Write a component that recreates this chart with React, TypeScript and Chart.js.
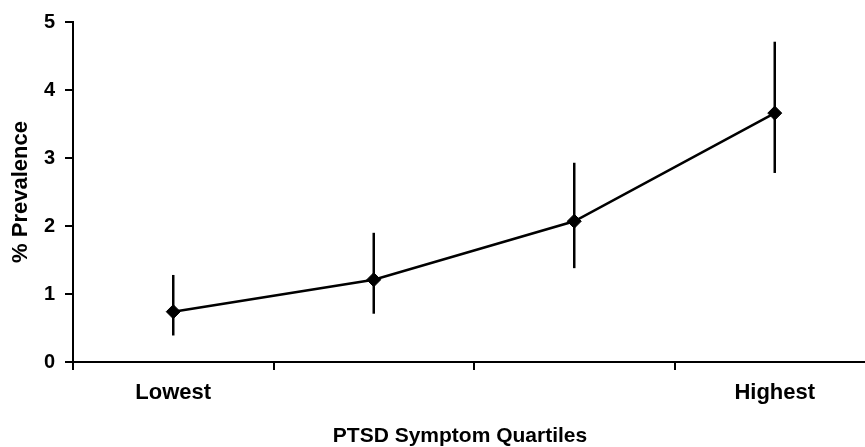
import React, { useEffect, useRef } from "react";
import { Chart, registerables } from "chart.js";

Chart.register(...registerables);

const quartiles = ["Lowest", "", "", "Highest"];
const prevalence = [0.74, 1.21, 2.07, 3.66];
const upperCI = [1.28, 1.9, 2.93, 4.71];
const lowerCI = [0.39, 0.71, 1.38, 2.78];
const yTicks = [0, 1, 2, 3, 4, 5];
const xTitle = "PTSD Symptom Quartiles";
const yTitle = "% Prevalence";

const FONT = "'Liberation Sans', Arial, Helvetica, sans-serif";

const errorBars = {
  id: "errorBars",
  beforeDatasetsDraw(chart: any) {
    const { ctx, scales } = chart;
    const xs = scales.x;
    const ys = scales.y;
    ctx.save();
    ctx.strokeStyle = "#000";
    ctx.lineWidth = 2.5;
    for (let i = 0; i < prevalence.length; i++) {
      const x = xs.getPixelForValue(i);
      ctx.beginPath();
      ctx.moveTo(x, ys.getPixelForValue(upperCI[i]));
      ctx.lineTo(x, ys.getPixelForValue(lowerCI[i]));
      ctx.stroke();
    }
    ctx.restore();
  },
};

const bottomTitle = {
  id: "bottomTitle",
  afterDraw(chart: any) {
    const { ctx, chartArea } = chart;
    ctx.save();
    ctx.fillStyle = "#000";
    ctx.font = `bold 21px ${FONT}`;
    ctx.textAlign = "center";
    ctx.textBaseline = "middle";
    ctx.fillText(xTitle, chartArea.left + 387, chartArea.bottom + 74);
    ctx.restore();
  },
};

export default function App() {
  const ref = useRef<HTMLCanvasElement | null>(null);

  useEffect(() => {
    if (!ref.current) return;
    const chart = new Chart(ref.current, {
      type: "line",
      data: {
        labels: quartiles,
        datasets: [
          {
            data: prevalence,
            borderColor: "#000",
            borderWidth: 2.5,
            backgroundColor: "#000",
            pointStyle: "rectRot",
            pointRadius: 7,
            pointBorderWidth: 1,
            pointBackgroundColor: "#000",
            pointBorderColor: "#000",
            tension: 0,
            fill: false,
          },
        ],
      },
      options: {
        responsive: false,
        animation: false,
        events: [],
        layout: { padding: { top: 19, left: 0, right: 0, bottom: 0 } },
        plugins: {
          legend: { display: false },
          tooltip: { enabled: false },
        },
        scales: {
          x: {
            type: "category",
            offset: true,
            border: { display: true, color: "#000", width: 2 },
            grid: {
              offset: true,
              drawOnChartArea: false,
              drawTicks: true,
              tickLength: 8,
              color: "#000",
              lineWidth: 2,
            },
            ticks: {
              color: "#000",
              padding: 10,
              maxRotation: 0,
              autoSkip: false,
              font: { family: FONT, size: 22, weight: "bold" },
            },
            afterFit: (s: any) => {
              s.height = 85;
            },
          },
          y: {
            min: 0,
            max: 5,
            border: { display: true, color: "#000", width: 2 },
            grid: {
              drawOnChartArea: false,
              drawTicks: true,
              tickLength: 8,
              color: "#000",
              lineWidth: 2,
            },
            afterBuildTicks: (s: any) => {
              s.ticks = yTicks.map((v) => ({ value: v }));
            },
            ticks: {
              color: "#000",
              padding: 10,
              font: { family: FONT, size: 20, weight: "bold" },
            },
            title: {
              display: true,
              text: yTitle,
              color: "#000",
              padding: { top: 8, bottom: 0 },
              font: { family: FONT, size: 22, weight: "bold" },
            },
            afterFit: (s: any) => {
              s.width = 73;
            },
          },
        },
      },
      plugins: [errorBars, bottomTitle],
    });
    return () => chart.destroy();
  }, []);

  return (
    <div
      style={{
        position: "absolute",
        left: 0,
        top: 0,
        width: 865,
        height: 447,
        overflow: "hidden",
        background: "#fff",
      }}
    >
      <canvas
        ref={ref}
        width={883}
        height={447}
        style={{ display: "block", width: 883, height: 447 }}
      />
    </div>
  );
}
